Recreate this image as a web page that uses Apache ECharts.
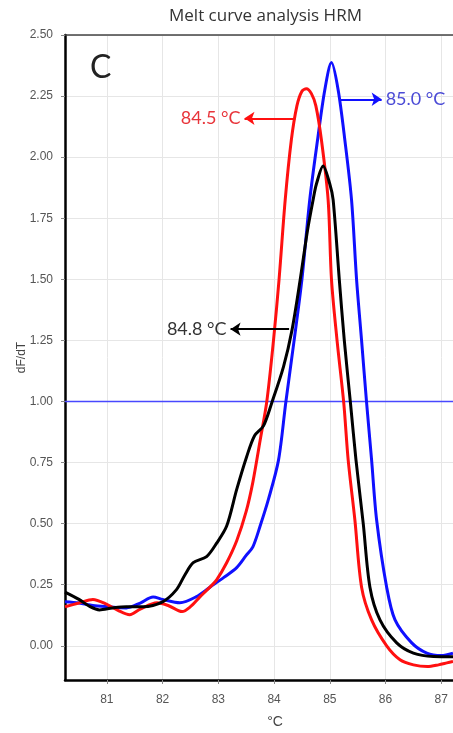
<!DOCTYPE html>
<html>
<head>
<meta charset="utf-8">
<script src="https://cdn.jsdelivr.net/npm/echarts@6/dist/echarts.min.js"></script>
<style>
html,body{margin:0;padding:0;background:#fff;}
#chart{width:453px;height:733px;}
</style>
</head>
<body>
<div id="chart"></div>
<script>
// ---- data ----
var xTicks = [81, 82, 83, 84, 85, 86, 87];
var yTicks = [0, 0.25, 0.5, 0.75, 1.0, 1.25, 1.5, 1.75, 2.0, 2.25, 2.5];

var redX = [80.25,80.5,80.75,81.0,81.2,81.41,81.6,81.9,82.1,82.35,82.5,82.67,82.85,82.97,83.15,83.33,83.5,83.62,83.75,83.87,83.99,84.09,84.2,84.31,84.41,84.5,84.58,84.67,84.75,84.85,84.97,85.03,85.13,85.25,85.33,85.45,85.57,85.75,86.02,86.26,86.5,86.75,86.95,87.1,87.21];
var redY = [0.16,0.175,0.19,0.17,0.145,0.127,0.15,0.176,0.165,0.14,0.16,0.20,0.24,0.27,0.34,0.43,0.55,0.67,0.84,1.0,1.25,1.5,1.825,2.07,2.21,2.27,2.28,2.26,2.21,2.07,1.825,1.5,1.25,0.995,0.76,0.515,0.24,0.106,0.0,-0.057,-0.078,-0.085,-0.078,-0.07,-0.064];

var blueX = [80.25,80.5,80.75,81.0,81.35,81.6,81.83,82.0,82.31,82.6,82.85,83.1,83.33,83.5,83.62,83.75,83.9,84.08,84.21,84.36,84.5,84.64,84.78,84.91,85.03,85.15,85.27,85.39,85.48,85.57,85.66,85.75,85.84,86.02,86.17,86.47,86.74,87.0,87.21];
var blueY = [0.18,0.175,0.165,0.16,0.155,0.175,0.20,0.19,0.176,0.2,0.24,0.28,0.32,0.37,0.405,0.49,0.6,0.76,0.995,1.25,1.5,1.825,2.07,2.275,2.387,2.275,2.07,1.825,1.5,1.25,0.995,0.76,0.515,0.24,0.106,0.012,-0.03,-0.04,-0.03];

var blackX = [80.25,80.5,80.7,80.87,81.1,81.35,81.65,82.0,82.25,82.4,82.55,82.79,82.97,83.15,83.33,83.51,83.65,83.81,83.96,84.17,84.32,84.47,84.6,84.7,84.76,84.88,85.0,85.06,85.17,85.26,85.37,85.47,85.6,85.72,85.9,86.2,86.5,86.86,87.21];
var blackY = [0.22,0.19,0.16,0.147,0.155,0.16,0.16,0.18,0.23,0.29,0.34,0.365,0.42,0.49,0.64,0.775,0.86,0.9,0.995,1.143,1.29,1.5,1.7,1.825,1.89,1.964,1.89,1.825,1.5,1.25,0.995,0.76,0.5,0.24,0.106,0.012,-0.03,-0.044,-0.045];

var xRange = [80.25, 87.21];
var thresholdY = 1.0;
var peakLabels = ['84.5 °C', '85.0 °C', '84.8 °C'];

function pairs(xs, ys) { return xs.map(function (x, i) { return [x, ys[i]]; }); }

var chart = echarts.init(document.getElementById('chart'), null, {renderer: 'canvas'});

function arrow(x1, y, x2, color, text, textColor) {
  var ls = {color: color, width: 2, type: 'solid'};
  return [{coord: [x1, y], symbol: 'none', lineStyle: ls},
          {coord: [x2, y], symbol: 'arrow', symbolSize: [10, 10], lineStyle: ls,
           label: {show: true, position: 'end', distance: 4, formatter: text,
                   color: textColor, fontSize: 18, fontFamily: 'Lato'}}];
}

var option = {
  animation: false,
  backgroundColor: '#ffffff',
  title: [
    {text: 'Melt curve analysis HRM', left: 164, top: 3,
     textStyle: {fontFamily: 'Open Sans', fontSize: 17, fontWeight: 'normal', color: '#333'}},
    {text: 'C', left: 85, top: 47,
     textStyle: {fontFamily: 'Lato', fontSize: 32, fontWeight: 'normal', color: '#222'}}
  ],
  grid: {left: 65, right: 0, top: 35, bottom: 53, containLabel: false, outerBoundsMode: 'none'},
  xAxis: [{
    type: 'value', min: xRange[0], max: xRange[1], position: 'bottom',
    name: '°C', nameLocation: 'middle', nameGap: 35, nameMoveOverlap: false,
    nameTextStyle: {fontFamily: 'Liberation Sans', fontSize: 14, color: '#444', padding: [0, 0, 0, 32]},
    axisLine: {show: true, onZero: false, lineStyle: {color: '#000', width: 2.5}},
    axisTick: {show: true, customValues: xTicks, length: 4, lineStyle: {color: '#888'}},
    axisLabel: {customValues: xTicks, color: '#555', fontSize: 12, fontFamily: 'Liberation Sans', margin: 14},
    splitLine: {show: true, lineStyle: {color: '#e6e6e6', width: 1}}
  }, {
    type: 'value', min: xRange[0], max: xRange[1], position: 'top',
    axisLine: {show: true, onZero: false, lineStyle: {color: '#444', width: 1.5}},
    axisTick: {show: false}, axisLabel: {show: false}, splitLine: {show: false}
  }],
  yAxis: {
    type: 'value', min: -0.14, max: 2.5,
    name: 'dF/dT', nameLocation: 'middle', nameGap: 37, nameRotate: 90, nameMoveOverlap: false,
    nameTextStyle: {fontFamily: 'Liberation Sans', fontSize: 12, color: '#444'},
    axisLine: {show: true, onZero: false, lineStyle: {color: '#000', width: 2.5}},
    axisTick: {show: true, customValues: yTicks, length: 4, lineStyle: {color: '#888'}},
    axisLabel: {customValues: yTicks, color: '#555', fontSize: 12, fontFamily: 'Liberation Sans', margin: 12,
                formatter: function (v) { return v.toFixed(2); }},
    splitLine: {show: true, lineStyle: {color: '#e6e6e6', width: 1}}
  },
  series: [
    {name: 'threshold', type: 'line', data: [[xRange[0], thresholdY], [xRange[1], thresholdY]],
     showSymbol: false, silent: true, z: 1,
     lineStyle: {color: '#4848ff', width: 1.6}, itemStyle: {color: '#4848ff'}},
    {name: 'blue', type: 'line', data: pairs(blueX, blueY), showSymbol: false, smooth: 0.3,
     lineStyle: {color: '#1010ff', width: 3}, itemStyle: {color: '#1010ff'}, z: 2,
     markLine: {silent: true, animation: false, symbol: 'none',
       data: [arrow(85.19, 2.237, 85.93, '#1010ff', peakLabels[1], '#4b4bd6')]}},
    {name: 'red', type: 'line', data: pairs(redX, redY), showSymbol: false, smooth: 0.3,
     lineStyle: {color: '#ff1010', width: 3}, itemStyle: {color: '#ff1010'}, z: 3,
     markLine: {silent: true, animation: false, symbol: 'none',
       data: [arrow(84.38, 2.159, 83.47, '#ff1010', peakLabels[0], '#e8343a')]}},
    {name: 'black', type: 'line', data: pairs(blackX, blackY), showSymbol: false, smooth: 0.3,
     lineStyle: {color: '#000', width: 3}, itemStyle: {color: '#000'}, z: 4,
     markLine: {silent: true, animation: false, symbol: 'none',
       data: [arrow(84.27, 1.296, 83.22, '#000', peakLabels[2], '#333')]}}
  ]
};
chart.setOption(option);
</script>
</body>
</html>
